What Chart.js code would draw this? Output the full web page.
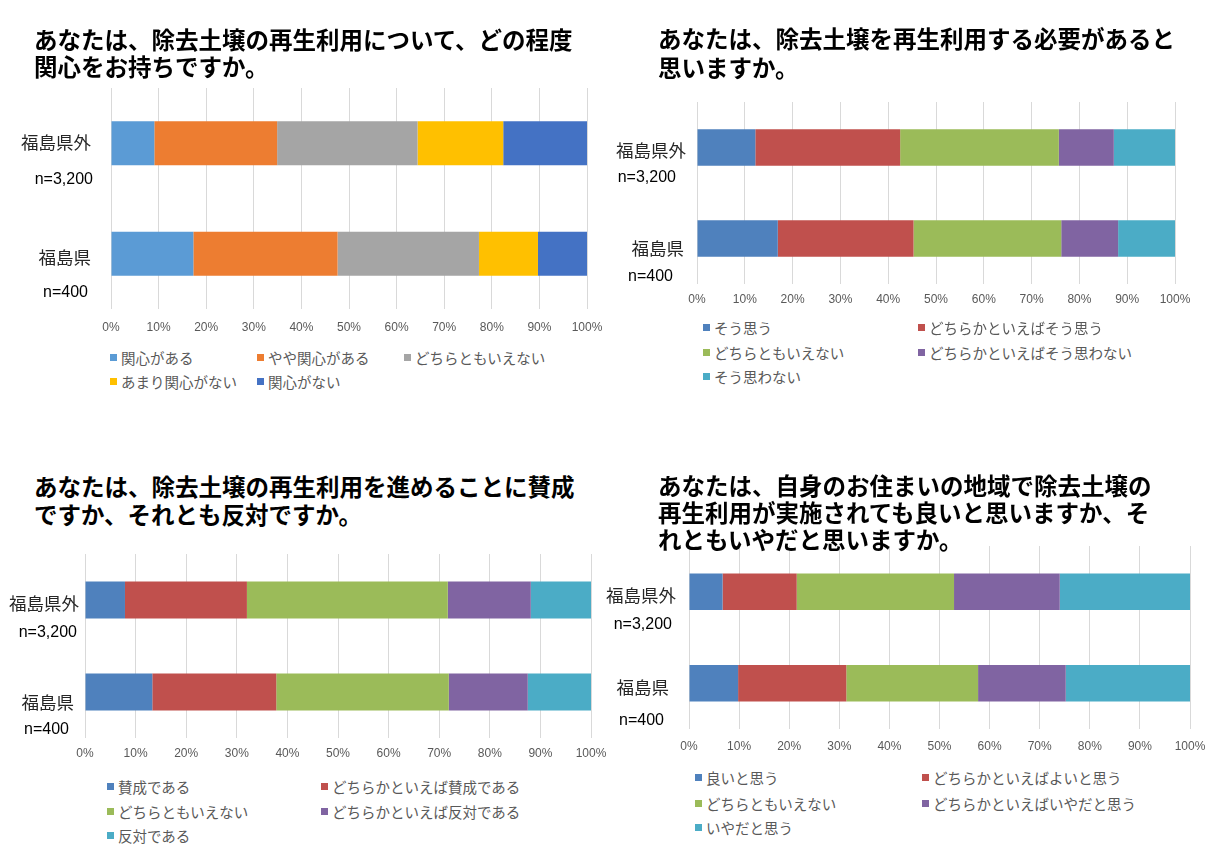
<!DOCTYPE html>
<html lang="ja"><head><meta charset="utf-8">
<script src="https://cdn.jsdelivr.net/npm/chart.js@4.4.1/dist/chart.umd.min.js"></script>
<style>
html,body{margin:0;padding:0;background:#fff;}
body{width:1216px;height:865px;overflow:hidden;position:relative;font-family:"Noto Sans CJK JP","Noto Sans",sans-serif;}
.title{position:absolute;font-weight:bold;font-size:23.5px;color:#000;line-height:27px;white-space:nowrap;z-index:2;background:transparent;}
canvas{position:absolute;z-index:1;}
.li{position:absolute;display:flex;align-items:center;white-space:nowrap;height:22px;font-size:14.5px;color:#595959;z-index:2;}
.sw{width:7px;height:7px;margin-right:4px;flex:none;}
</style></head><body>
<div id="root"></div>
<script>
// ---------- data ----------
const categories = ['福島県外', '福島県'];
const sampleSizes = ['n=3,200', 'n=400'];
const xTicks = [0, 10, 20, 30, 40, 50, 60, 70, 80, 90, 100];

const q1Title = ['あなたは、除去土壌の再生利用について、どの程度', '関心をお持ちですか。'];
const q1Series = ['関心がある', 'やや関心がある', 'どちらともいえない', 'あまり関心がない', '関心がない'];
const q1Outside = [9.1, 25.8, 29.5, 18.0, 17.6];
const q1Inside = [17.3, 30.3, 29.7, 12.4, 10.3];

const q2Title = ['あなたは、除去土壌を再生利用する必要があると', '思いますか。'];
const q2Series = ['そう思う', 'どちらかといえばそう思う', 'どちらともいえない', 'どちらかといえばそう思わない', 'そう思わない'];
const q2Outside = [12.2, 30.3, 33.2, 11.5, 12.8];
const q2Inside = [16.9, 28.4, 30.9, 11.9, 11.9];

const q3Title = ['あなたは、除去土壌の再生利用を進めることに賛成', 'ですか、それとも反対ですか。'];
const q3Series = ['賛成である', 'どちらかといえば賛成である', 'どちらともいえない', 'どちらかといえば反対である', '反対である'];
const q3Outside = [7.9, 24.1, 39.7, 16.4, 11.9];
const q3Inside = [13.3, 24.5, 34.1, 15.6, 12.5];

const q4Title = ['あなたは、自身のお住まいの地域で除去土壌の', '再生利用が実施されても良いと思いますか、そ', 'れともいやだと思いますか。'];
const q4Series = ['良いと思う', 'どちらかといえばよいと思う', 'どちらともいえない', 'どちらかといえばいやだと思う', 'いやだと思う'];
const q4Outside = [6.7, 14.8, 31.4, 21.1, 26.0];
const q4Inside = [9.8, 21.6, 26.3, 17.5, 24.8];

// ---------- styles ----------
const paletteA = ['#5B9BD5', '#ED7D31', '#A5A5A5', '#FFC000', '#4472C4'];
const paletteB = ['#4F81BD', '#C0504D', '#9BBB59', '#8064A2', '#4BACC6'];
const AXIS_H = 30;

const layouts = [
  { title: q1Title, series: q1Series, vals: [q1Outside, q1Inside], colors: paletteA,
    titlePos: {left: 34, top: 26, lh: 27},
    canvas: {left: 0, top: 80, width: 620, height: 261},
    plot: {left: 111, right: 587, top: 88, bottom: 309}, tickPad: 11,
    names: [{rx: 91, dy: -1}, {rx: 91, dy: 3.5}], ns: [{rx: 93, dy: 36}, {rx: 88, dy: 39}],
    legendCols: [110, 257, 404], legendRows: [357, 381], perRow: 3 },
  { title: q2Title, series: q2Series, vals: [q2Outside, q2Inside], colors: paletteB,
    titlePos: {left: 658, top: 24, lh: 29},
    canvas: {left: 600, top: 95, width: 616, height: 221},
    plot: {left: 697, right: 1175, top: 102, bottom: 284}, tickPad: 8,
    names: [{rx: 686, dy: 3}, {rx: 684, dy: 10}], ns: [{rx: 676, dy: 30}, {rx: 673, dy: 38}],
    legendCols: [703, 918], legendRows: [327, 352, 376], perRow: 2 },
  { title: q3Title, series: q3Series, vals: [q3Outside, q3Inside], colors: paletteB,
    titlePos: {left: 34, top: 473, lh: 27.5},
    canvas: {left: 0, top: 546, width: 625, height: 224},
    plot: {left: 85, right: 591, top: 554, bottom: 738}, tickPad: 8,
    names: [{rx: 79, dy: 3}, {rx: 74, dy: 10}], ns: [{rx: 77, dy: 33}, {rx: 69, dy: 38}],
    legendCols: [107, 321], legendRows: [786, 811, 835], perRow: 2 },
  { title: q4Title, series: q4Series, vals: [q4Outside, q4Inside], colors: paletteB,
    titlePos: {left: 658, top: 472, lh: 27},
    canvas: {left: 600, top: 538, width: 616, height: 223},
    plot: {left: 689, right: 1190, top: 546, bottom: 729}, tickPad: 10,
    names: [{rx: 676, dy: 4}, {rx: 669, dy: 4}], ns: [{rx: 672, dy: 33}, {rx: 664, dy: 37}],
    legendCols: [695, 922], legendRows: [777, 803, 827], perRow: 2 }
];

const root = document.getElementById('root');

layouts.forEach((L, idx) => {
  // title
  const t = document.createElement('div');
  t.className = 'title';
  t.style.left = L.titlePos.left + 'px';
  t.style.top = L.titlePos.top + 'px';
  t.style.lineHeight = L.titlePos.lh + 'px';
  L.title.forEach((line, i) => {
    if (i) t.appendChild(document.createElement('br'));
    t.appendChild(document.createTextNode(line));
  });
  root.appendChild(t);

  // legend
  L.series.forEach((name, i) => {
    const row = Math.floor(i / L.perRow), col = i % L.perRow;
    const d = document.createElement('div');
    d.className = 'li';
    d.style.left = L.legendCols[col] + 'px';
    d.style.top = (L.legendRows[row] - 11) + 'px';
    const sw = document.createElement('span');
    sw.className = 'sw';
    sw.style.background = L.colors[i];
    d.appendChild(sw);
    d.appendChild(document.createTextNode(name));
    root.appendChild(d);
  });

  // canvas
  const c = document.createElement('canvas');
  c.width = L.canvas.width; c.height = L.canvas.height;
  c.style.left = L.canvas.left + 'px'; c.style.top = L.canvas.top + 'px';
  c.style.width = L.canvas.width + 'px'; c.style.height = L.canvas.height + 'px';
  root.appendChild(c);

  const pad = {
    left: L.plot.left - L.canvas.left,
    top: L.plot.top - L.canvas.top,
    right: L.canvas.left + L.canvas.width - L.plot.right,
    bottom: L.canvas.top + L.canvas.height - L.plot.bottom - AXIS_H
  };

  const sideLabels = {
    id: 'sideLabels' + idx,
    afterDraw(chart) {
      const ctx = chart.ctx, y = chart.scales.y;
      ctx.save();
      ctx.textAlign = 'right';
      ctx.textBaseline = 'middle';
      categories.forEach((cat, i) => {
        const py = y.getPixelForValue(i);
        ctx.font = '17.5px "Noto Sans CJK JP"';
        ctx.fillStyle = '#262626';
        ctx.fillText(cat, L.names[i].rx - L.canvas.left, py + L.names[i].dy);
        ctx.font = '16px "Liberation Sans", Arial, sans-serif';
        ctx.fillStyle = '#000';
        ctx.fillText(sampleSizes[i], L.ns[i].rx - L.canvas.left, py + L.ns[i].dy);
      });
      ctx.restore();
    }
  };

  new Chart(c, {
    type: 'bar',
    data: {
      labels: categories,
      datasets: L.series.map((name, i) => ({
        label: name,
        data: L.vals.map(v => v[i]),
        backgroundColor: L.colors[i],
        borderWidth: 0,
        categoryPercentage: 1,
        barPercentage: 0.4
      }))
    },
    options: {
      indexAxis: 'y',
      responsive: false,
      animation: false,
      devicePixelRatio: window.devicePixelRatio || 1,
      layout: { padding: pad },
      plugins: { legend: { display: false }, tooltip: { enabled: false } },
      scales: {
        x: {
          stacked: true, min: 0, max: 100,
          afterFit: s => { s.height = AXIS_H; },
          afterBuildTicks: s => { s.ticks = xTicks.map(v => ({ value: v })); },
          border: { display: false },
          grid: { color: '#D9D9D9', lineWidth: 1, drawTicks: false },
          ticks: {
            padding: L.tickPad, color: '#595959', maxRotation: 0,
            font: { family: '"Liberation Sans", Arial, sans-serif', size: 12 },
            callback: v => v + '%'
          }
        },
        y: { stacked: true, display: false }
      }
    },
    plugins: [sideLabels]
  });
});
</script>
</body></html>
